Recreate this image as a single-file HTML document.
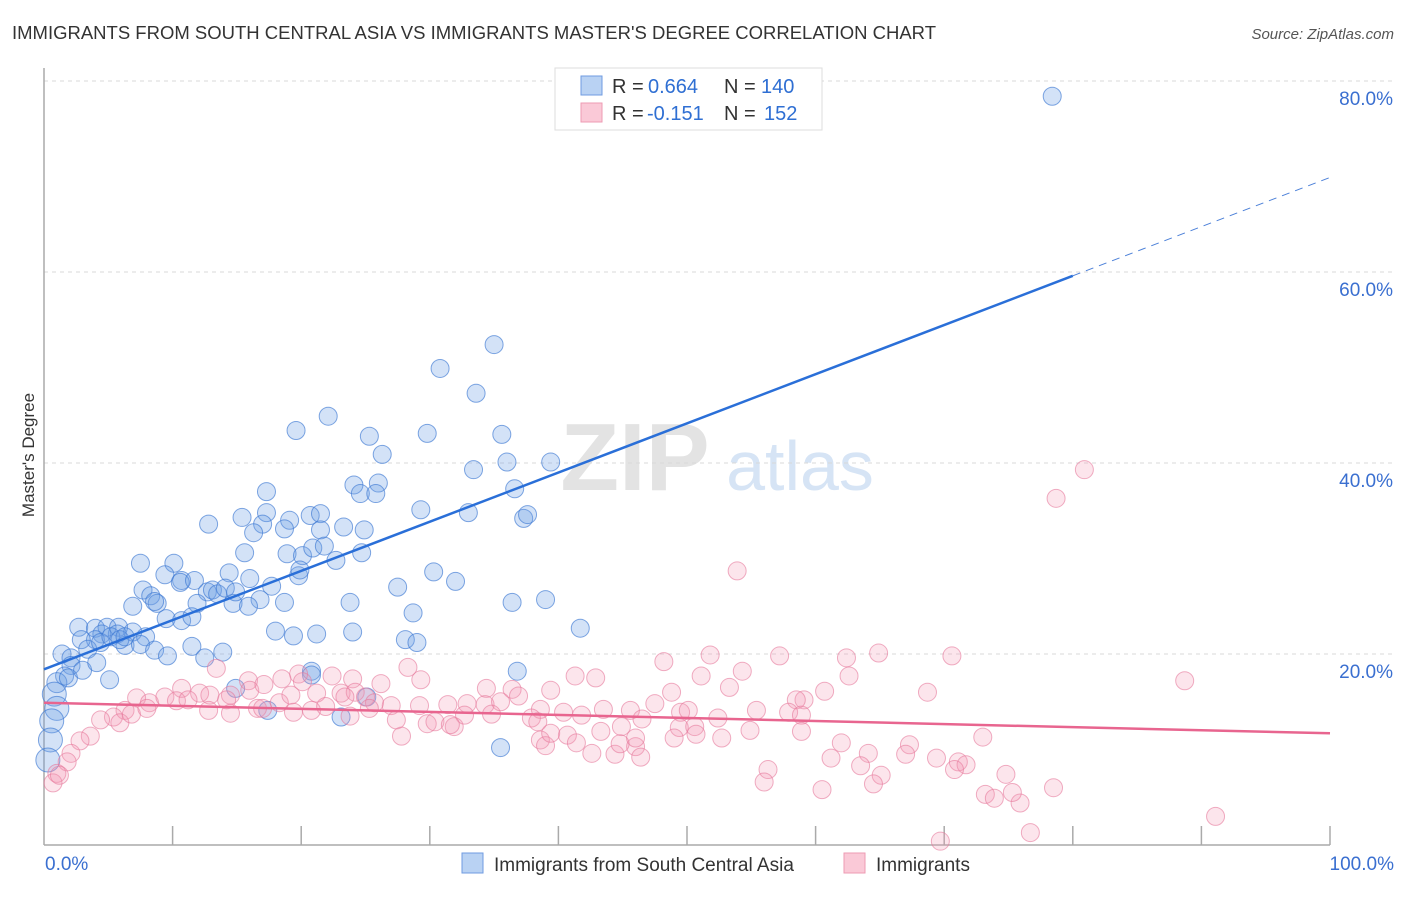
<!DOCTYPE html>
<html><head><meta charset="utf-8">
<style>
body{margin:0;background:#fff;font-family:"Liberation Sans",sans-serif;}
svg text{font-family:"Liberation Sans",sans-serif;}
</style></head>
<body>
<svg id="chart" width="1406" height="892" xmlns="http://www.w3.org/2000/svg">
<text x="12" y="39" font-size="18" fill="#333" textLength="924" lengthAdjust="spacingAndGlyphs">IMMIGRANTS FROM SOUTH CENTRAL ASIA VS IMMIGRANTS MASTER'S DEGREE CORRELATION CHART</text>
<text x="1394" y="39" font-size="15" fill="#555" font-style="italic" text-anchor="end">Source: ZipAtlas.com</text>
<g>
<text x="635" y="490" font-size="96" fill="#e3e3e3" font-family="Liberation Serif" text-anchor="middle" font-weight="bold">ZIP</text>
<text x="800" y="490" font-size="70" fill="#d6e4f5" text-anchor="middle">atlas</text>
</g>
<g id="grid"></g>
<g id="axes"></g>
<g id="pts"></g>
<g id="lines"></g>
<text transform="translate(34,455) rotate(-90)" font-size="17" fill="#333" text-anchor="middle">Master's Degree</text>
<g>
<rect x="555" y="68" width="267" height="62" fill="#fff" stroke="#ddd"/>
<rect x="581" y="76" width="21" height="19" fill="#b9d2f3" stroke="#6f9be0"/>
<rect x="581" y="103" width="21" height="19" fill="#fac9d7" stroke="#ee9bb3"/>
<text x="612" y="93" font-size="20" fill="#333">R =</text>
<text x="648" y="93" font-size="20" fill="#2f6fd3">0.664</text>
<text x="724" y="93" font-size="20" fill="#333">N =</text>
<text x="761" y="93" font-size="20" fill="#2f6fd3">140</text>
<text x="612" y="120" font-size="20" fill="#333">R =</text>
<text x="647" y="120" font-size="20" fill="#2f6fd3">-0.151</text>
<text x="724" y="120" font-size="20" fill="#333">N =</text>
<text x="764" y="120" font-size="20" fill="#2f6fd3">152</text>
</g>
<g>
<rect x="462" y="853" width="21" height="20" fill="#b9d2f3" stroke="#6f9be0"/>
<text x="494" y="871" font-size="19" fill="#333">Immigrants from South Central Asia</text>
<rect x="844" y="853" width="21" height="20" fill="#fac9d7" stroke="#ee9bb3"/>
<text x="876" y="871" font-size="19" fill="#333">Immigrants</text>
</g>
</svg>
<script>
const yTicks=[20,40,60,80];
const yTickLabels=["20.0%","40.0%","60.0%","80.0%"];
const xLabels=["0.0%","100.0%"];
const blueX=[78.4,35.0,30.8,33.6,22.1,19.6,29.8,25.3,35.6,26.3,33.4,36.0,39.4,24.1,17.3,26.0,24.6,25.8,36.6,12.8,15.4,17.3,17.0,19.1,20.7,21.5,23.3,24.9,29.3,33.0,37.3,37.6,16.3,18.7,21.5,15.6,18.9,20.1,20.9,21.8,24.7,22.7,7.5,10.1,14.4,9.4,10.7,16.0,17.7,19.8,19.9,27.5,30.3,32.0,7.7,8.3,8.8,10.6,11.7,12.7,13.1,13.5,14.1,16.8,18.7,14.7,6.9,8.6,11.9,14.9,15.9,23.8,28.7,36.4,39.0,9.5,10.7,11.5,2.7,4.0,4.9,5.8,5.7,4.5,6.9,7.9,4.0,2.9,6.3,7.5,8.6,9.6,11.5,12.5,13.9,18.0,19.4,21.2,24.0,28.1,29.0,41.7,1.4,2.1,3.4,4.4,5.2,5.9,2.1,1.6,1.0,1.9,3.0,4.1,5.1,0.8,1.0,0.6,0.5,0.3,20.8,36.8,14.9,17.4,35.5,23.1,25.1,20.8,6.3];
const blueY=[78.4,52.4,49.9,47.3,44.9,43.4,43.1,42.8,43.0,40.9,39.3,40.1,40.1,37.7,37.0,37.9,36.8,36.8,37.3,33.6,34.3,34.8,33.6,34.0,34.5,34.7,33.3,33.0,35.1,34.8,34.2,34.6,32.7,33.1,33.0,30.6,30.5,30.3,31.1,31.3,30.6,29.8,29.5,29.5,28.5,28.3,27.7,27.9,27.1,28.2,28.8,27.0,28.6,27.6,26.7,26.1,25.3,27.5,27.7,26.5,26.7,26.3,26.9,25.7,25.4,25.3,25.0,25.5,25.3,26.5,25.0,25.4,24.3,25.4,25.7,23.7,23.5,23.9,22.8,22.7,22.8,22.8,22.1,22.1,22.3,21.8,21.5,21.5,20.9,21.0,20.4,19.8,20.8,19.6,20.2,22.4,21.9,22.1,22.3,21.5,21.2,22.7,20.0,19.6,20.5,21.2,21.8,21.5,18.8,17.7,17.0,17.5,18.3,19.1,17.3,15.8,14.3,13.0,11.0,8.9,18.2,18.2,16.4,14.1,10.2,13.4,15.5,17.8,21.8];
const pinkX=[80.9,78.7,53.9,13.4,15.9,10.7,12.1,14.5,16.0,17.1,18.5,19.8,20.1,22.4,24.0,26.2,28.3,29.3,34.4,36.4,36.9,39.4,41.3,42.9,48.2,51.8,54.3,57.2,62.4,64.9,70.6,88.7,53.3,51.1,48.8,62.6,60.7,59.1,58.5,68.7,7.2,8.2,9.4,10.3,11.2,12.9,14.2,16.6,18.3,19.2,21.2,23.1,24.2,25.0,25.7,27.0,29.2,31.4,32.9,34.3,35.5,38.6,40.4,43.5,45.6,47.5,49.5,50.1,52.4,55.4,57.9,58.9,6.3,5.4,5.9,4.4,3.6,2.8,2.1,1.8,1.0,0.7,1.2,6.8,8.0,12.8,14.5,17.0,19.4,20.8,21.9,23.4,23.8,25.3,27.4,29.8,30.4,31.9,32.7,34.8,37.9,38.4,41.8,44.9,43.3,46.5,49.4,50.6,52.7,54.9,58.9,38.6,39.0,40.7,27.8,31.6,41.4,42.6,44.4,46.0,46.4,39.4,56.3,56.0,60.5,62.0,64.1,61.2,63.5,65.1,64.5,67.3,67.0,69.4,71.1,71.7,73.0,70.8,73.2,73.9,74.8,75.9,75.3,76.7,78.5,91.1,69.7,49.0,50.7,44.8,46.0];
const pinkY=[39.3,36.3,28.7,18.5,17.2,16.4,15.9,15.7,16.2,16.8,17.4,17.9,17.1,17.7,17.4,16.9,18.6,17.3,16.4,16.3,15.6,16.2,17.7,17.5,19.2,19.9,18.2,19.8,19.6,20.1,19.8,17.2,16.5,17.7,16.0,17.7,16.1,15.2,15.2,16.0,15.4,14.9,15.5,15.1,15.2,15.7,15.2,14.3,14.9,15.7,15.9,15.9,16.0,15.5,14.9,14.6,14.6,14.7,14.8,14.7,15.0,14.2,13.9,14.2,14.1,14.8,13.9,14.1,13.3,14.1,13.9,13.6,14.1,13.4,12.8,13.1,11.4,10.9,9.6,8.7,7.5,6.5,7.3,13.7,14.3,14.1,13.8,14.3,13.9,14.1,14.5,15.5,13.5,14.3,13.1,12.7,12.9,12.4,13.6,13.7,13.3,12.9,13.6,12.4,11.9,13.2,12.3,12.4,11.2,12.0,11.9,11.0,10.4,11.5,11.4,12.6,10.7,9.6,9.5,10.3,9.2,11.7,7.9,6.6,5.8,10.7,9.6,9.1,8.3,7.3,6.4,10.5,9.5,9.1,8.7,8.4,11.3,7.9,5.3,4.9,7.4,4.4,5.5,1.3,6.0,3.0,0.4,11.2,11.6,10.6,11.2];
const blueTrend=[18.4,69.9];
const pinkTrend=[14.9,11.7];

const NS="http://www.w3.org/2000/svg";
const L=44,R=1330,T=81,B=845;
function sx(v){return L+(R-L)*v/100;}
function sy(v){return B-(B-T)*v/80;}
function mk(tag,attrs,parent){const e=document.createElementNS(NS,tag);for(const k in attrs)e.setAttribute(k,attrs[k]);parent.appendChild(e);return e;}
const grid=document.getElementById('grid'),axes=document.getElementById('axes'),pts=document.getElementById('pts'),lines=document.getElementById('lines');
yTicks.forEach((t,i)=>{
 const g=mk('line',{x1:L,x2:1394,y1:sy(t),y2:sy(t),stroke:'#d8d8d8','stroke-dasharray':'4,4'},grid);
 
 
 const tx=mk('text',{x:1393,y:sy(t)+24,'font-size':19,fill:'#3a6fd0','text-anchor':'end'},axes);
 tx.textContent=yTickLabels[i];
 
 
});
const ax=mk('line',{x1:L,x2:R,y1:B,y2:B,stroke:'#aaa','stroke-width':1.5},axes);


const ay=mk('line',{x1:L,x2:L,y1:68,y2:B,stroke:'#aaa','stroke-width':1.5},axes);


for(let i=1;i<=10;i++){
 const tk=mk('line',{x1:sx(i*10),x2:sx(i*10),y1:826,y2:B,stroke:'#aaa','stroke-width':1.5},axes);
 
 
}
const xl0=mk('text',{x:45,y:870,'font-size':19,fill:'#3a6fd0'},axes);xl0.textContent=xLabels[0];


const xl1=mk('text',{x:1394,y:870,'font-size':19,fill:'#3a6fd0','text-anchor':'end'},axes);xl1.textContent=xLabels[1];


blueX.forEach((x,i)=>{
 const r=x<1.2?(blueY[i]<16?12:10):9;
 const c=mk('circle',{cx:sx(x),cy:sy(blueY[i]),r:r,fill:'rgba(110,160,230,0.3)',stroke:'rgba(60,120,210,0.65)','stroke-width':1},pts);
 
 
});
pinkX.forEach((x,i)=>{
 const c=mk('circle',{cx:sx(x),cy:sy(pinkY[i]),r:9,fill:'rgba(245,150,180,0.25)',stroke:'rgba(230,120,155,0.6)','stroke-width':1},pts);
 
 
});
function bt(x){return blueTrend[0]+(blueTrend[1]-blueTrend[0])*x/100;}
const b1=mk('line',{x1:sx(0),y1:sy(bt(0)),x2:sx(80),y2:sy(bt(80)),stroke:'#2a6fd8','stroke-width':2.5},lines);


const b2=mk('line',{x1:sx(80),y1:sy(bt(80)),x2:sx(100),y2:sy(bt(100)),stroke:'#4a7fd8','stroke-width':1,'stroke-dasharray':'8,6'},lines);


const p1=mk('line',{x1:sx(0),y1:sy(pinkTrend[0]),x2:sx(100),y2:sy(pinkTrend[1]),stroke:'#e8658f','stroke-width':2.5},lines);


</script>
</body></html>
